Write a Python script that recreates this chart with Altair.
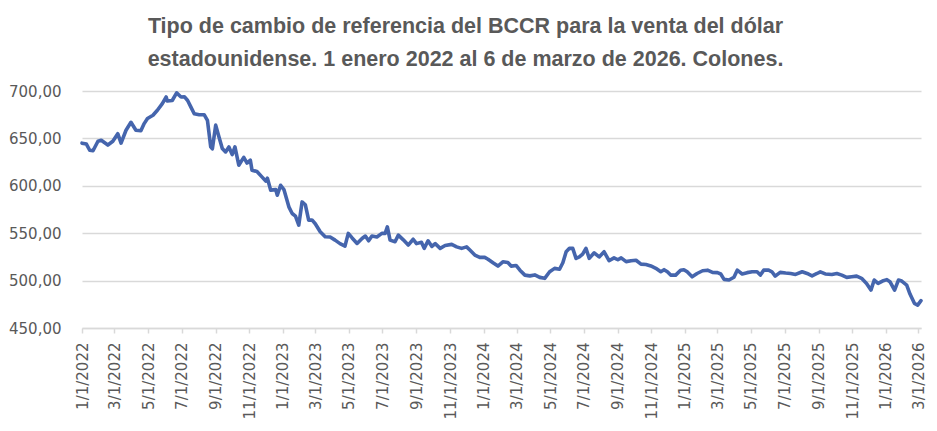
import altair as alt
import pandas as pd

dates = [
    "2022-01-01", "2022-01-09", "2022-01-15", "2022-01-21", "2022-01-30", "2022-02-05", "2022-02-17", "2022-02-26",
    "2022-03-07", "2022-03-13", "2022-03-22", "2022-03-31", "2022-04-09", "2022-04-18", "2022-04-24", "2022-04-30",
    "2022-05-10", "2022-05-18", "2022-05-27", "2022-06-03", "2022-06-05", "2022-06-14", "2022-06-22", "2022-06-30",
    "2022-07-06", "2022-07-12", "2022-07-18", "2022-07-24", "2022-08-02", "2022-08-11", "2022-08-17", "2022-08-23",
    "2022-08-26", "2022-09-01", "2022-09-07", "2022-09-13", "2022-09-19", "2022-09-25", "2022-10-01", "2022-10-06",
    "2022-10-13", "2022-10-22", "2022-10-28", "2022-11-03", "2022-11-06", "2022-11-15", "2022-11-24", "2022-12-01",
    "2022-12-04", "2022-12-10", "2022-12-19", "2022-12-22", "2022-12-28", "2023-01-03", "2023-01-12", "2023-01-18",
    "2023-01-24", "2023-01-30", "2023-02-05", "2023-02-11", "2023-02-17", "2023-02-23", "2023-03-01", "2023-03-10",
    "2023-03-19", "2023-03-28", "2023-04-06", "2023-04-15", "2023-04-24", "2023-04-30", "2023-05-07", "2023-05-16",
    "2023-05-25", "2023-05-31", "2023-06-06", "2023-06-12", "2023-06-21", "2023-06-30", "2023-07-06", "2023-07-10",
    "2023-07-15", "2023-07-24", "2023-07-30", "2023-08-08", "2023-08-17", "2023-08-26", "2023-09-01", "2023-09-10",
    "2023-09-15", "2023-09-22", "2023-09-29", "2023-10-05", "2023-10-14", "2023-10-23", "2023-11-04", "2023-11-13",
    "2023-11-22", "2023-12-01", "2023-12-07", "2023-12-16", "2023-12-25", "2024-01-03", "2024-01-09", "2024-01-18",
    "2024-01-27", "2024-02-05", "2024-02-14", "2024-02-20", "2024-02-29", "2024-03-07", "2024-03-16", "2024-03-25",
    "2024-04-03", "2024-04-12", "2024-04-21", "2024-04-30", "2024-05-09", "2024-05-18", "2024-05-24", "2024-05-30",
    "2024-06-05", "2024-06-11", "2024-06-17", "2024-06-23", "2024-06-29", "2024-07-05", "2024-07-11", "2024-07-20",
    "2024-07-29", "2024-08-07", "2024-08-16", "2024-08-25", "2024-09-01", "2024-09-07", "2024-09-16", "2024-09-25",
    "2024-10-04", "2024-10-13", "2024-10-22", "2024-10-31", "2024-11-09", "2024-11-18", "2024-11-24", "2024-11-30",
    "2024-12-06", "2024-12-15", "2024-12-24", "2024-12-30", "2025-01-05", "2025-01-14", "2025-01-23", "2025-02-02",
    "2025-02-11", "2025-02-20", "2025-03-01", "2025-03-07", "2025-03-13", "2025-03-22", "2025-03-31", "2025-04-06",
    "2025-04-15", "2025-04-24", "2025-05-03", "2025-05-12", "2025-05-18", "2025-05-24", "2025-06-02", "2025-06-08",
    "2025-06-14", "2025-06-23", "2025-07-03", "2025-07-12", "2025-07-21", "2025-08-02", "2025-08-11", "2025-08-20",
    "2025-08-29", "2025-09-04", "2025-09-13", "2025-09-25", "2025-10-04", "2025-10-13", "2025-10-22", "2025-10-31",
    "2025-11-09", "2025-11-18", "2025-11-27", "2025-12-05", "2025-12-11", "2025-12-18", "2025-12-26", "2026-01-03",
    "2026-01-09", "2026-01-17", "2026-01-24", "2026-01-30", "2026-02-08", "2026-02-14", "2026-02-22", "2026-02-28",
    "2026-03-06",
]

values = [
    645.0, 644.0, 637.5, 637.0, 647.0, 648.0, 643.0, 647.0,
    655.0, 645.0, 658.6, 667.0, 658.6, 658.0, 665.6, 671.0,
    674.4, 679.7, 686.7, 693.7, 689.5, 690.0, 698.0, 693.7,
    694.0, 690.0, 683.0, 676.0, 675.0, 675.0, 669.0, 641.0,
    639.0, 664.0, 651.5, 639.3, 635.7, 641.0, 633.0, 641.0,
    621.7, 630.0, 624.0, 627.0, 616.5, 615.0, 609.4, 605.0,
    608.0, 595.4, 596.0, 590.0, 600.6, 596.0, 577.8, 570.8,
    568.0, 558.5, 583.0, 580.0, 563.8, 564.0, 560.0, 551.5,
    546.2, 546.0, 542.7, 539.0, 536.4, 549.8, 545.0, 539.2,
    544.5, 547.0, 542.0, 547.0, 546.0, 549.8, 549.8, 556.7,
    542.7, 541.0, 548.0, 543.0, 537.5, 543.6, 539.0, 540.5,
    534.0, 542.0, 536.0, 539.0, 534.0, 537.0, 538.2, 535.6,
    534.0, 535.6, 532.2, 527.0, 524.5, 524.5, 522.5, 518.8,
    515.3, 519.8, 519.0, 515.3, 516.0, 511.0, 505.8, 505.0,
    506.0, 503.4, 502.4, 509.3, 512.9, 512.0, 518.8, 530.4,
    534.0, 534.0, 523.4, 525.0, 528.0, 534.0, 523.5, 529.3,
    525.0, 530.4, 521.0, 524.0, 522.0, 524.0, 520.0, 521.0,
    521.5, 517.4, 517.0, 515.5, 513.0, 509.3, 511.5, 509.3,
    505.8, 505.8, 511.0, 511.5, 509.3, 504.0, 507.5, 510.4,
    511.0, 508.7, 508.4, 507.0, 501.3, 500.6, 503.5, 511.0,
    507.0, 508.4, 509.3, 509.3, 505.8, 511.0, 511.0, 509.3,
    504.7, 508.7, 508.0, 507.5, 506.5, 509.3, 507.5, 505.0,
    507.5, 509.3, 507.0, 506.5, 507.5, 505.8, 503.4, 504.0,
    504.7, 502.4, 497.0, 490.0, 500.6, 497.0, 499.5, 501.0,
    498.5, 490.0, 500.6, 499.5, 495.3, 485.8, 476.0, 474.2,
    478.8,
]

tick_dates = [
    (2022, 1), (2022, 3), (2022, 5), (2022, 7), (2022, 9), (2022, 11),
    (2023, 1), (2023, 3), (2023, 5), (2023, 7), (2023, 9), (2023, 11),
    (2024, 1), (2024, 3), (2024, 5), (2024, 7), (2024, 9), (2024, 11),
    (2025, 1), (2025, 3), (2025, 5), (2025, 7), (2025, 9), (2025, 11),
    (2026, 1), (2026, 3),
]

y_ticks = [450, 500, 550, 600, 650, 700]

title_lines = [
    "Tipo de cambio de referencia del BCCR para la venta del dólar",
    "estadounidense. 1 enero 2022 al 6 de marzo de 2026. Colones.",
]

df = pd.DataFrame({"date": dates, "value": values})

tick_vals = [alt.DateTime(year=y, month=m, date=1, utc=True) for y, m in tick_dates]

TEXT = "#595959"
GRID = "#D9D9D9"

chart = alt.Chart(df).mark_line(
    color="#4565AD", strokeWidth=3.6, strokeJoin="round", strokeCap="round"
).encode(
    x=alt.X(
        "date:T",
        scale=alt.Scale(
            type="utc",
            domain=[
                alt.DateTime(year=2022, month=1, date=1, utc=True),
                alt.DateTime(year=2026, month=3, date=6, utc=True),
            ],
        ),
        axis=alt.Axis(
            values=tick_vals,
            labelExpr="utcFormat(datum.value, '%-m/%-d/%Y')",
            labelAngle=270,
            labelFont="DejaVu Sans",
            labelFontSize=15,
            labelColor=TEXT,
            labelPadding=9,
            labelOverlap=False,
            labelFlush=False,
            tickColor=GRID,
            tickSize=5,
            tickWidth=1.5,
            domainColor=GRID,
            domainWidth=1.5,
            grid=False,
            title=None,
        ),
    ),
    y=alt.Y(
        "value:Q",
        scale=alt.Scale(domain=[450, 700], nice=False, zero=False),
        axis=alt.Axis(
            values=y_ticks,
            labelExpr="replace(format(datum.value, '.2f'), '.', ',')",
            labelFont="DejaVu Sans",
            labelFontSize=15,
            labelColor=TEXT,
            labelPadding=21,
            ticks=False,
            domain=False,
            grid=True,
            gridColor=GRID,
            gridWidth=1.5,
            title=None,
        ),
    ),
).properties(
    width=839,
    height=237,
    autosize=alt.AutoSizeParams(type="none"),
    padding={"left": 74, "top": 83, "right": 8, "bottom": 92},
    title=alt.TitleParams(
        text=title_lines,
        anchor="middle",
        font="Liberation Sans",
        fontSize=21.5,
        fontWeight="bold",
        color=TEXT,
        lineHeight=33,
        offset=14,
        dx=-36,
    ),
).configure_view(stroke=None)

chart.save("out.html", embed_options={"renderer": "svg", "actions": False})
